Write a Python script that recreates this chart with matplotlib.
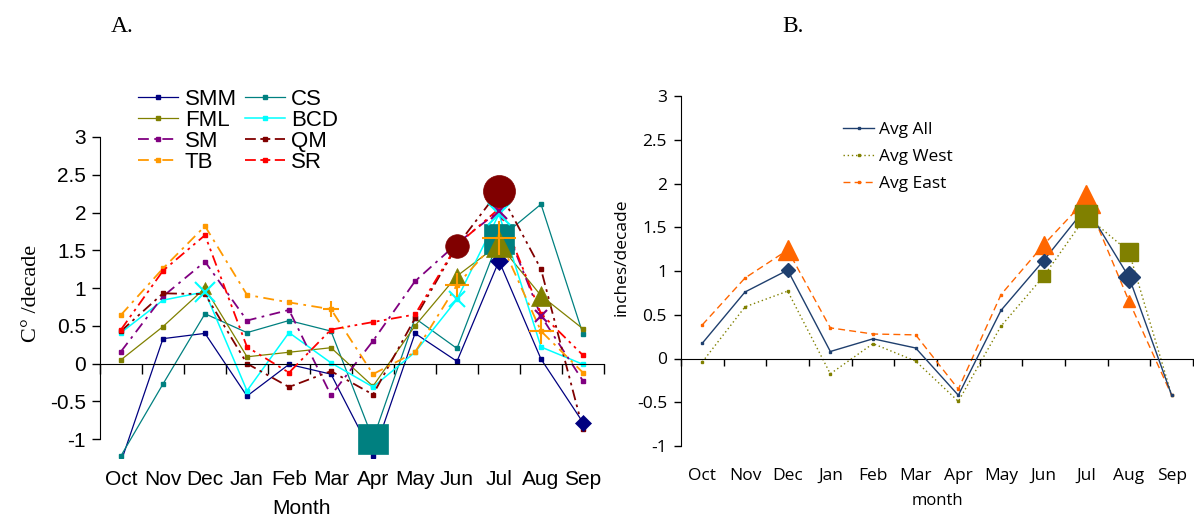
import matplotlib
matplotlib.use("Agg")
import matplotlib.pyplot as plt
import matplotlib.transforms as mtransforms
from matplotlib import font_manager
import numpy as np

# ---------------- data ----------------
months = ["Oct", "Nov", "Dec", "Jan", "Feb", "Mar", "Apr", "May", "Jun", "Jul", "Aug", "Sep"]

SMM = [-1.30, 0.33, 0.40, -0.43, -0.01, -0.14, -1.22, 0.40, 0.03, 1.36, 0.06, -0.78]
CS  = [-1.22, -0.27, 0.66, 0.41, 0.57, 0.43, -1.00, 0.60, 0.20, 1.65, 2.11, 0.39]
FML = [0.05, 0.49, 1.00, 0.09, 0.15, 0.21, -0.30, 0.50, 1.16, 1.58, 0.90, 0.46]
BCD = [0.41, 0.84, 0.95, -0.36, 0.41, 0.01, -0.31, 0.15, 0.85, 1.98, 0.22, -0.01]
SM  = [0.16, 0.89, 1.35, 0.57, 0.71, -0.42, 0.30, 1.09, 1.59, 2.02, 0.63, -0.23]
QM  = [0.43, 0.93, 0.92, 0.00, -0.31, -0.10, -0.41, 0.60, 1.56, 2.29, 1.25, -0.87]
TB  = [0.645, 1.26, 1.82, 0.91, 0.81, 0.72, -0.14, 0.15, 1.04, 1.66, 0.43, -0.12]
SR  = [0.45, 1.23, 1.70, 0.22, -0.12, 0.45, 0.55, 0.65, 1.57, 2.05, 0.66, 0.11]

avg_all  = [0.175, 0.76, 1.01, 0.08, 0.225, 0.12, -0.42, 0.55, 1.12, 1.73, 0.93, -0.42]
avg_west = [-0.04, 0.59, 0.77, -0.175, 0.17, -0.03, -0.49, 0.37, 0.94, 1.63, 1.22, -0.42]
avg_east = [0.385, 0.92, 1.24, 0.35, 0.28, 0.27, -0.35, 0.73, 1.30, 1.82, 0.655, -0.42]

# ---------------- styles ----------------
names = {f.name for f in font_manager.fontManager.ttflist}
narrow = "Liberation Sans Narrow" if "Liberation Sans Narrow" in names else "Liberation Sans"
serif = "Liberation Serif"
bfont = "Open Sans"

x = np.arange(len(months))

fig = plt.figure(figsize=(11.94, 5.21), dpi=100)
W, H = 1194, 521

def px_axes(l, t, r, b):
    return fig.add_axes([l / W, 1 - b / H, (r - l) / W, (b - t) / H])

# ================= Panel A =================
axA = px_axes(100, 137, 604, 458)
axA.set_xlim(-0.5, 11.5)
axA.set_ylim(-1.25, 3)

dd = (0, (6, 2.5, 1.5, 2.5, 1.5, 2.5))
dash_dot = (0, (6, 3, 1.5, 3))
seriesA = [
    ("SMM", SMM, "#000080", "-", 0.9),
    ("CS", CS, "#008080", "-", 0.9),
    ("FML", FML, "#808000", "-", 0.9),
    ("BCD", BCD, "#00FFFF", "-", 1.1),
    ("SM", SM, "#800080", dash_dot, 1.3),
    ("QM", QM, "#800000", dd, 1.3),
    ("TB", TB, "#FF9900", dash_dot, 1.3),
    ("SR", SR, "#FF0000", dd, 1.3),
]
# highlight markers: series -> (marker, [(month index, size in points)])
highlights = {
    "SMM": ("D", [(9, 9), (11, 8)]),
    "CS": ("s", [(6, 21), (9, 21)]),
    "FML": ("^", [(2, 9), (8, 11), (9, 19), (10, 15)]),
    "BCD": ("x", [(2, 15), (8, 12), (9, 16)]),
    "SM": ("x", [(9, 12), (10, 9)]),
    "QM": ("o", [(8, 17), (9, 23)]),
    "TB": ("+", [(5, 12), (8, 17), (9, 24), (10, 18)]),
}
colA = {s[0]: s[2] for s in seriesA}
valA = {s[0]: s[1] for s in seriesA}

handles = {}
for i, (name, vals, col, ls, lw) in enumerate(seriesA):
    ln, = axA.plot(x, vals, color=col, ls=ls, lw=lw, marker="s", ms=2.2,
                   mec=col, mfc=col, label=name, zorder=2 + i * 0.1)
    handles[name] = ln
for k, (name, *_rest) in enumerate(seriesA):
    if name not in highlights:
        continue
    mk, pts = highlights[name]
    col = colA[name]
    vals = valA[name]
    for idx, sz in pts:
        axA.plot([x[idx]], [vals[idx]], marker=mk, ms=sz, color=col, mec=col,
                 mew=1.5 if mk in ("x", "+") else 0.5, ls="none", zorder=5 + k * 0.1)

for s in ("top", "right"):
    axA.spines[s].set_visible(False)
axA.spines["left"].set_bounds(-1, 3)
axA.spines["bottom"].set_position(("data", 0))
axA.set_yticks([-1, -0.5, 0, 0.5, 1, 1.5, 2, 2.5, 3])
axA.set_yticklabels(["-1", "-0.5", "0", "0.5", "1", "1.5", "2", "2.5", "3"],
                    fontsize=15, family=narrow)
axA.tick_params(axis="y", direction="out", length=6, width=1, pad=4)
axA.set_xticks(np.arange(-0.5, 12, 1))
axA.set_xticklabels([])
axA.tick_params(axis="x", direction="out", length=7, width=1)
transA = mtransforms.blended_transform_factory(axA.transData, axA.transAxes)
for i, m in enumerate(months):
    axA.text(x[i], -0.068, m, transform=transA, ha="center", va="center",
             fontsize=15, family=narrow)
fig.text(302 / W, 1 - 509 / H, "Month", ha="center", va="center", fontsize=15, family=narrow)
fig.text(32 / W, 1 - 293 / H, "C° /decade", rotation=90, ha="center", va="center",
         fontsize=16, family=serif)

labA = ["SMM", "FML", "SM", "TB", "CS", "BCD", "QM", "SR"]
legA = fig.legend([handles[n] for n in labA], labA,
                  ncol=2, loc="upper left", bbox_to_anchor=(138 / W, 1 - 89 / H),
                  frameon=False, prop={"family": narrow, "size": 16},
                  handlelength=1.8, handletextpad=0.3, columnspacing=0.35,
                  labelspacing=0.0, borderpad=0, borderaxespad=0)

fig.text(122 / W, 1 - 27 / H, "A.", ha="center", va="center", fontsize=17, family=serif)
fig.text(793 / W, 1 - 27 / H, "B.", ha="center", va="center", fontsize=17, family=serif)

# ================= Panel B =================
axB = px_axes(681, 96, 1193, 446)
axB.set_xlim(-0.5, 11.5)
axB.set_ylim(-1, 3)
c_all, c_west, c_east = "#1F3F6E", "#808000", "#FF6600"
lA, = axB.plot(x, avg_all, color=c_all, lw=1.0, marker="s", ms=1.8, label="Avg All", zorder=3)
lW, = axB.plot(x, avg_west, color=c_west, lw=1.0, ls=(0, (1, 2)), marker="s", ms=1.5,
               label="Avg West", zorder=2)
lE, = axB.plot(x, avg_east, color=c_east, lw=1.0, ls=(0, (5, 3)), marker="s", ms=1.5,
               label="Avg East", zorder=2)
hlB = [
    (avg_east, "^", c_east, [(2, 14), (8, 13), (9, 20), (10, 9)]),
    (avg_west, "s", c_west, [(8, 8), (9, 16), (10, 13)]),
    (avg_all, "D", c_all, [(2, 7), (8, 7), (10, 11)]),
]
for vals, mk, col, pts in hlB:
    for idx, sz in pts:
        axB.plot([x[idx]], [vals[idx]], marker=mk, ms=sz, color=col, mec=col, ls="none", zorder=5)

for s in ("top", "right"):
    axB.spines[s].set_visible(False)
axB.spines["bottom"].set_position(("data", 0))
axB.set_yticks([-1, -0.5, 0, 0.5, 1, 1.5, 2, 2.5, 3])
axB.set_yticklabels(["-1", "-0.5", "0", "0.5", "1", "1.5", "2", "2.5", "3"],
                    fontsize=12.5, family=bfont)
axB.tick_params(axis="y", direction="out", length=5, width=1, pad=5)
axB.set_xticks(np.arange(-0.5, 12, 1))
axB.set_xticklabels([])
axB.tick_params(axis="x", direction="out", length=5, width=1)
transB = mtransforms.blended_transform_factory(axB.transData, axB.transAxes)
for i, m in enumerate(months):
    axB.text(x[i], -0.086, m, transform=transB, ha="center", va="center",
             fontsize=12.5, family=bfont)
fig.text(937 / W, 1 - 501 / H, "month", ha="center", va="center", fontsize=12, family=bfont)
fig.text(622 / W, 1 - 257 / H, "inches/decade", rotation=90, ha="center", va="center",
         fontsize=12.5, family=bfont)

legB = axB.legend([lA, lW, lE], ["Avg All", "Avg West", "Avg East"],
                  loc="upper left", bbox_to_anchor=(843 / W, 1 - 122 / H),
                  bbox_transform=fig.transFigure, frameon=False,
                  prop={"family": bfont, "size": 12.5}, handlelength=1.8,
                  handletextpad=0.3, labelspacing=0.62, borderpad=0, borderaxespad=0)

fig.savefig("out.png", dpi=100)
